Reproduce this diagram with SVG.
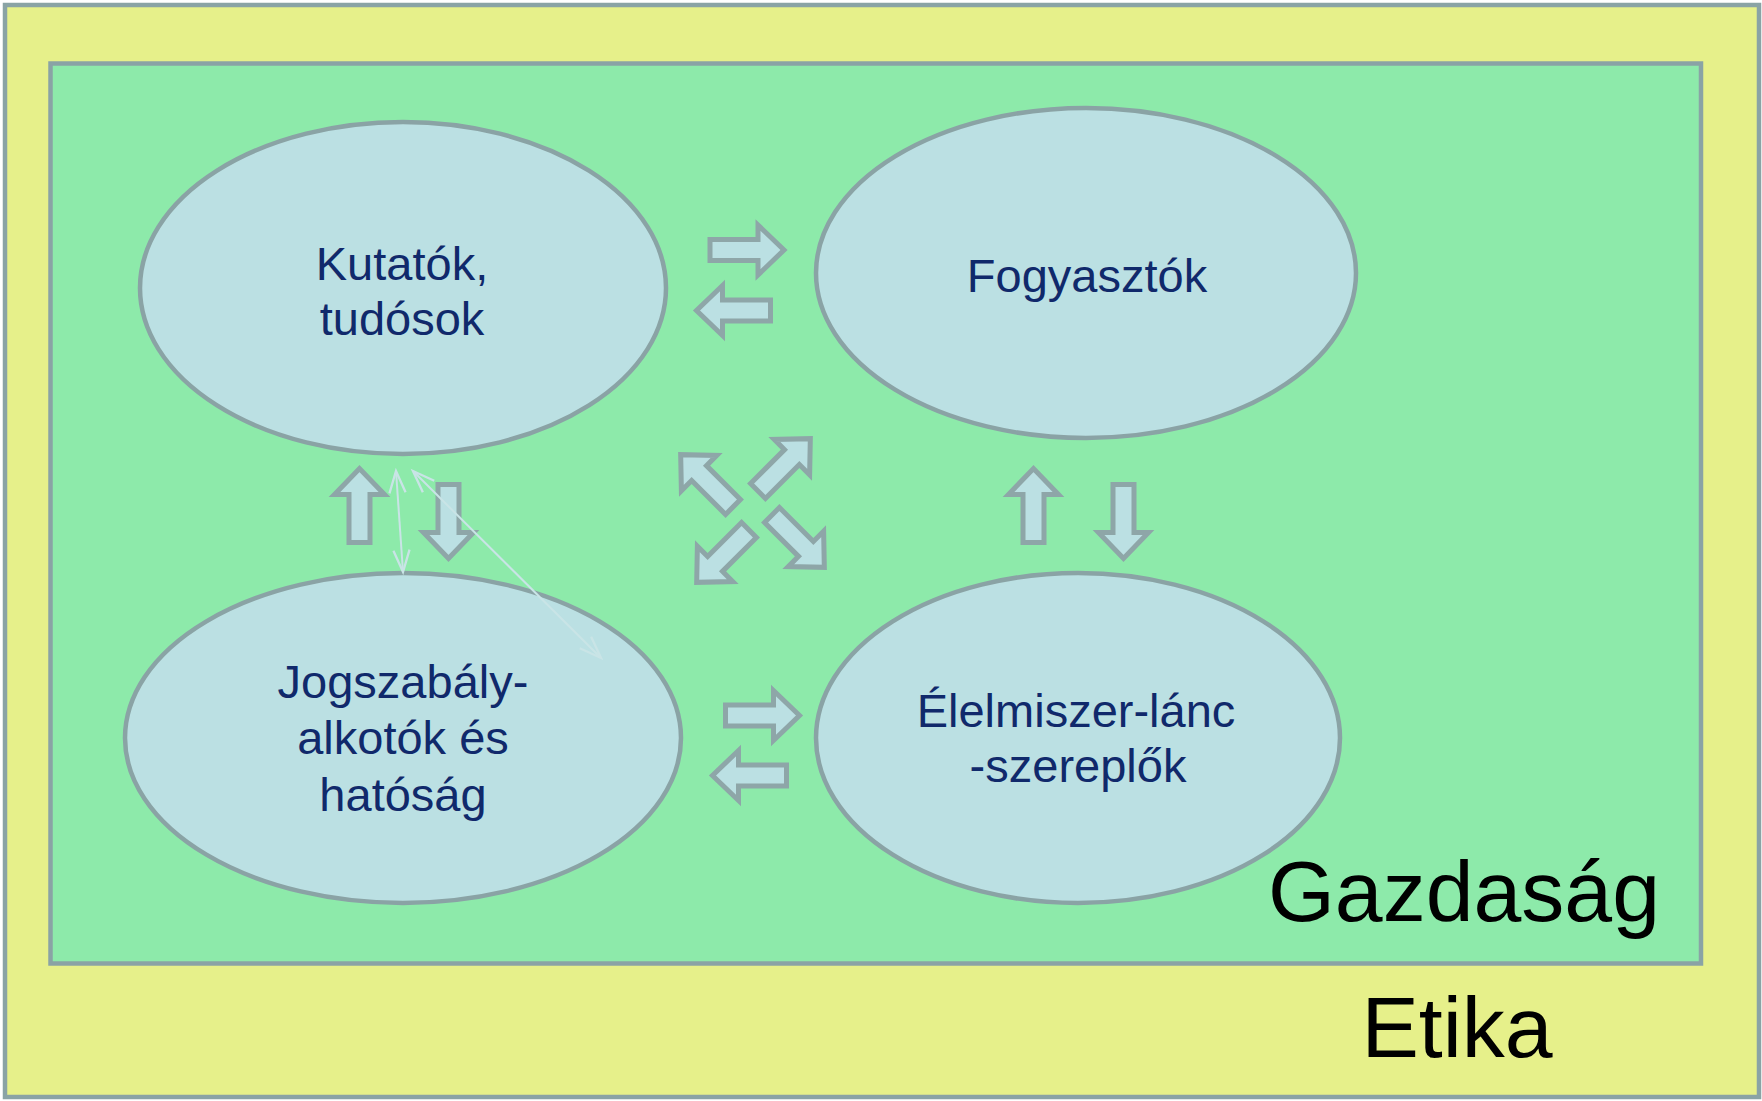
<svg xmlns="http://www.w3.org/2000/svg" width="1762" height="1101" viewBox="0 0 1762 1101">
<defs>
<style>
.frame{stroke:#8aa3a5;stroke-width:4.5}
.node{fill:#bbe0e3;stroke:#8aa3a5;stroke-width:4.5}
.lbl{font-family:"Liberation Sans",Arial,sans-serif;font-size:47px;fill:#10296b;text-anchor:middle}
.big{font-family:"Liberation Sans",Arial,sans-serif;font-size:86px;fill:#000;text-anchor:middle}
.blk{fill:#bbe0e3;stroke:#8ea6a8;stroke-width:5;stroke-linejoin:miter}
.thin{stroke:#c9e4e6;stroke-width:2;fill:none}
</style>
<path id="ba" d="M0,-10.5 L48,-10.5 L48,-25 L74,0 L48,25 L48,10.5 L0,10.5 Z"/>
<marker id="oh" markerUnits="userSpaceOnUse" markerWidth="30" markerHeight="30" viewBox="-22 -12 26 24" refX="0" refY="0" orient="auto-start-reverse">
<path d="M-19,-7 L0,0 L-19,7" fill="none" stroke="#c9e4e6" stroke-width="2"/>
</marker>
</defs>
<g id="etika">
<rect x="5" y="5" width="1754" height="1092" fill="#e6f08a" class="frame"/>
<text class="big" x="1457" y="1057">Etika</text>
</g>
<g id="gazdasag">
<rect x="50.5" y="63.5" width="1650.5" height="900" fill="#8deaaa" class="frame"/>
<text class="big" x="1464" y="921">Gazdaság</text>
</g>
<g id="kutatok">
<ellipse class="node" cx="403" cy="288" rx="263" ry="166"/>
<text class="lbl" x="402" y="280">Kutatók,</text>
<text class="lbl" x="402" y="335">tudósok</text>
</g>
<g id="fogyasztok">
<ellipse class="node" cx="1086" cy="273" rx="270" ry="165"/>
<text class="lbl" x="1087" y="292">Fogyasztók</text>
</g>
<g id="jogszabaly">
<ellipse class="node" cx="403" cy="738" rx="278" ry="165"/>
<text class="lbl" x="403" y="698">Jogszabály-</text>
<text class="lbl" x="403" y="754">alkotók és</text>
<text class="lbl" x="403" y="811">hatóság</text>
</g>
<g id="elelmiszer">
<ellipse class="node" cx="1078" cy="738" rx="262" ry="165"/>
<text class="lbl" x="1076" y="727">Élelmiszer-lánc</text>
<text class="lbl" x="1078" y="782">-szereplők</text>
</g>
<g id="connectors">
<use href="#ba" class="blk" transform="translate(710,250)"/>
<use href="#ba" class="blk" transform="translate(770.5,310.5) rotate(180)"/>
<use href="#ba" class="blk" transform="translate(725.5,715.5)"/>
<use href="#ba" class="blk" transform="translate(786.5,775.5) rotate(180)"/>
<use href="#ba" class="blk" transform="translate(359.5,542.5) rotate(-90)"/>
<use href="#ba" class="blk" transform="translate(448.5,484.5) rotate(90)"/>
<use href="#ba" class="blk" transform="translate(1033.5,542.5) rotate(-90)"/>
<use href="#ba" class="blk" transform="translate(1123.5,484.5) rotate(90)"/>
<use href="#ba" class="blk" transform="translate(733,507) rotate(-135)"/>
<use href="#ba" class="blk" transform="translate(758,491) rotate(-45)"/>
<use href="#ba" class="blk" transform="translate(749,530) rotate(135)"/>
<use href="#ba" class="blk" transform="translate(772,515) rotate(45)"/>
<line class="thin" x1="396" y1="471" x2="403" y2="572" marker-start="url(#oh)" marker-end="url(#oh)"/>
<line class="thin" x1="413" y1="471" x2="601" y2="658" marker-start="url(#oh)" marker-end="url(#oh)"/>
</g>
</svg>
